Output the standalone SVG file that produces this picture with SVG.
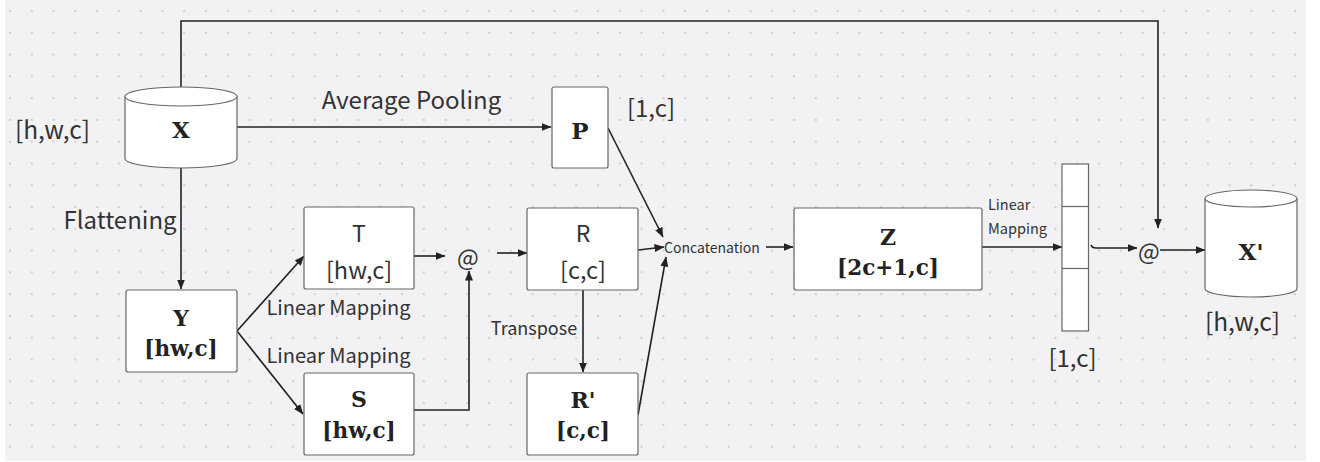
<svg xmlns="http://www.w3.org/2000/svg" width="1320" height="462" viewBox="0 0 1320 462">
<defs>
<pattern id="dots" x="10" y="11" width="21.78" height="21.78" patternUnits="userSpaceOnUse">
<circle cx="0" cy="0" r="1.1" fill="#c6c6cb"/>
<circle cx="21.78" cy="0" r="1.1" fill="#c6c6cb"/>
<circle cx="0" cy="21.78" r="1.1" fill="#c6c6cb"/>
<circle cx="21.78" cy="21.78" r="1.1" fill="#c6c6cb"/>
</pattern>
<marker id="arr" markerWidth="10" markerHeight="8" refX="9.5" refY="4" orient="auto" markerUnits="userSpaceOnUse">
<path d="M0,0 L10,4 L0,8 Z" fill="#222"/>
</marker>
<style>
.box{fill:#fff;stroke:#666;stroke-width:1.2}
.cn{fill:none;stroke:#222;stroke-width:1.6;marker-end:url(#arr)}
.sans{font-family:"Noto Sans CJK SC","Noto Sans",sans-serif;fill:#333;text-anchor:middle;dominant-baseline:central}
.ser{font-family:"DejaVu Serif","Liberation Serif",serif;font-weight:bold;fill:#222;text-anchor:middle;dominant-baseline:central}
</style>
</defs>
<rect x="0" y="0" width="1320" height="462" fill="#ffffff"/>
<rect x="5" y="0" width="1301" height="461" fill="#f2f2f4"/>
<rect x="5" y="0" width="1301" height="461" fill="url(#dots)"/>

<g id="connectors">
<path class="cn" d="M181,87 V21 H1158 V228"/>
<path class="cn" d="M237,127 H551"/>
<path class="cn" d="M181,168 V289"/>
<path class="cn" d="M237,331 L304,256"/>
<path class="cn" d="M237,331 L303,414"/>
<path class="cn" d="M414,256 H445"/>
<path class="cn" d="M414,410 H469 V271"/>
<path class="cn" d="M497,253 H527"/>
<path class="cn" d="M608,128 L663,237"/>
<path class="cn" d="M638,250 L664,247"/>
<path class="cn" d="M583,290 V372"/>
<path class="cn" d="M638,415 L666,257"/>
<path class="cn" d="M766,247 H793"/>
<path class="cn" d="M982,247 H1062"/>
<path class="cn" d="M1091,245 Q1092,248 1096,248 H1137"/>
<path class="cn" d="M1160,250 H1205"/>
</g>

<g id="node-X">
<path class="box" d="M125,96.5 A56,9.5 0 0 1 237,96.5 V158.5 A56,9.5 0 0 1 125,158.5 Z"/>
<path class="box" fill="none" d="M125,96.5 A56,9.5 0 0 0 237,96.5"/>
<text class="ser" x="181" y="129" font-size="23">X</text>
</g>
<text class="sans" x="52.5" y="128" font-size="24.5">[h,w,c]</text>
<text class="sans" x="411.5" y="98" font-size="24">Average Pooling</text>
<text class="sans" x="120" y="218" font-size="24">Flattening</text>

<g id="node-P">
<rect class="box" x="552" y="87" width="56" height="81" rx="2"/>
<text class="ser" x="580" y="130" font-size="23">P</text>
</g>
<text class="sans" x="651" y="106" font-size="24">[1,c]</text>

<g id="node-Y">
<rect class="box" x="126" y="290" width="111" height="82" rx="2"/>
<text class="ser" x="181" y="318" font-size="22">Y</text>
<text class="ser" x="181" y="348" font-size="21.5">[hw,c]</text>
</g>

<g id="node-T">
<rect class="box" x="304" y="207" width="110" height="82" rx="2"/>
<text class="sans" x="359" y="232" font-size="23">T</text>
<text class="sans" x="359" y="269" font-size="23.5">[hw,c]</text>
</g>

<g id="node-S">
<rect class="box" x="304" y="373" width="110" height="82" rx="2"/>
<text class="ser" x="359" y="399" font-size="22">S</text>
<text class="ser" x="359" y="430" font-size="21.5">[hw,c]</text>
</g>

<text class="sans" x="338.5" y="306" font-size="20">Linear Mapping</text>
<text class="sans" x="338.5" y="354" font-size="20">Linear Mapping</text>

<g id="node-at1">
<text class="sans" x="468" y="256" font-size="23">@</text>
</g>

<g id="node-R">
<rect class="box" x="527" y="208" width="111" height="82" rx="2"/>
<text class="sans" x="583" y="232" font-size="23">R</text>
<text class="sans" x="583" y="269" font-size="23.5">[c,c]</text>
</g>
<text class="sans" x="534" y="327" font-size="18">Transpose</text>

<g id="node-Rp">
<rect class="box" x="527" y="373" width="111" height="82" rx="2"/>
<text class="ser" x="583" y="400" font-size="22">R'</text>
<text class="ser" x="583" y="430" font-size="21.5">[c,c]</text>
</g>

<g id="node-concat">
<text class="sans" x="712" y="247" font-size="14">Concatenation</text>
</g>

<g id="node-Z">
<rect class="box" x="794" y="208" width="188" height="82" rx="2"/>
<text class="ser" x="888" y="237" font-size="22">Z</text>
<text class="ser" x="888" y="267" font-size="21.5">[2c+1,c]</text>
</g>
<text class="sans" x="988" y="203" font-size="14.5" style="text-anchor:start">Linear</text>
<text class="sans" x="988" y="227" font-size="14.5" style="text-anchor:start">Mapping</text>

<g id="node-vector">
<rect class="box" x="1062" y="164" width="26.5" height="167"/>
<line x1="1062" y1="206.5" x2="1088.5" y2="206.5" stroke="#666" stroke-width="1.2"/>
<line x1="1062" y1="268.5" x2="1088.5" y2="268.5" stroke="#666" stroke-width="1.2"/>
</g>
<text class="sans" x="1072.5" y="356" font-size="24">[1,c]</text>

<g id="node-at2">
<text class="sans" x="1149" y="250" font-size="23">@</text>
</g>

<g id="node-Xp">
<path class="box" d="M1205,198.5 A46,8.5 0 0 1 1297,198.5 V288.5 A46,8.5 0 0 1 1205,288.5 Z"/>
<path class="box" fill="none" d="M1205,198.5 A46,8.5 0 0 0 1297,198.5"/>
<text class="ser" x="1251" y="251" font-size="23">X'</text>
</g>
<text class="sans" x="1242.5" y="320" font-size="24.5">[h,w,c]</text>
</svg>
